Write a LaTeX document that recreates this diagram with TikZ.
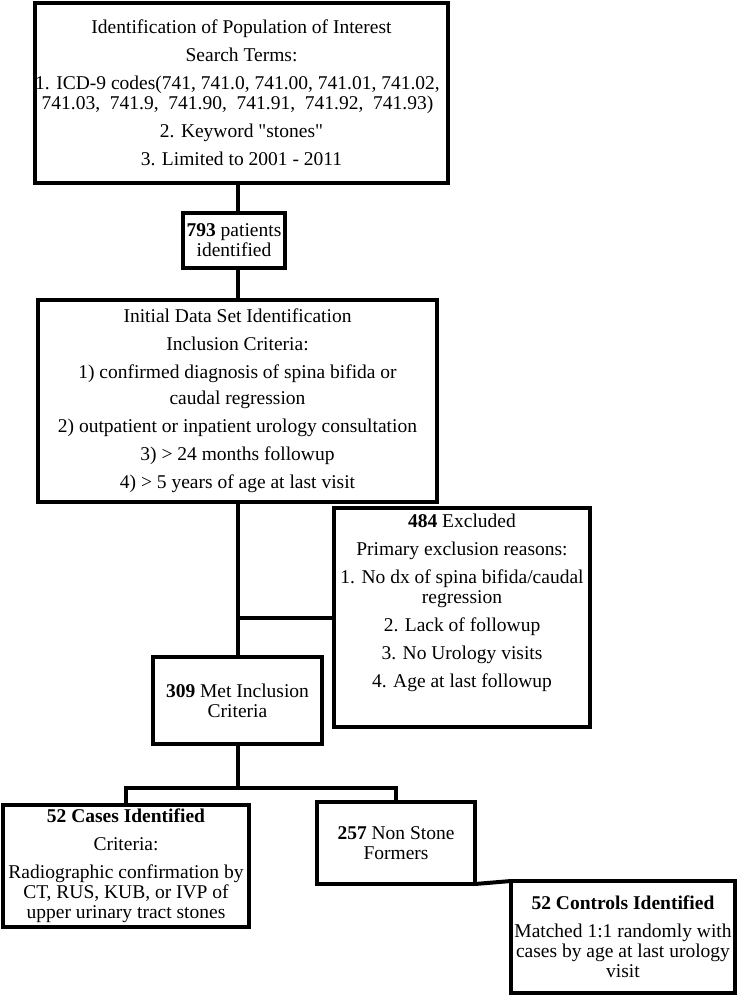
\documentclass[tikz,border=0pt]{standalone}
\usepackage{fontspec}
\setmainfont{Liberation Serif}
\newcommand\boxfont{\fontsize{19.5}{20}\selectfont}
\begin{document}
\begin{tikzpicture}[x=1pt,y=-1pt,
  box/.style={draw, line width=4pt, rectangle, inner sep=0pt, outer sep=0pt, align=center, font=\boxfont},
  txt/.style={inner sep=0pt, outer sep=0pt, align=center, font=\boxfont},
  conn/.style={line width=4pt}]
\path[use as bounding box, fill=white] (0,0) rectangle (738,996);

\node[box, minimum width=413pt, minimum height=180pt] (top) at (241.5,93)
 {Identification of Population of Interest\\[8pt]
  Search Terms:\\[8pt]
  \hspace*{-8pt}1. ICD-9 codes(741, 741.0, 741.00, 741.01, 741.02,\\
  \hspace*{-8pt}741.03, \ 741.9, \ 741.90, \ 741.91, \ 741.92, \ 741.93)\\[8pt]
  2. Keyword \textquotedbl stones\textquotedbl\\[8pt]
  3. Limited to 2001 - 2011};

\node[box, minimum width=102pt, minimum height=55pt] (n793) at (234,240.5)
 {\textbf{793} patients\\ identified};

\node[box, minimum width=399pt, minimum height=202pt] (init) at (237.5,401)
 {Initial Data Set Identification\\[8pt]
  Inclusion Criteria:\\[8pt]
  1) confirmed diagnosis of spina bifida or\\[6pt]
  caudal regression\\[8pt]
  2) outpatient or inpatient urology consultation\\[8pt]
  3) > 24 months followup\\[8pt]
  4) > 5 years of age at last visit};

\node[box, minimum width=256pt, minimum height=219pt] (excl) at (462,617.5) {};
\node[txt, anchor=north] (exclt) at (462,514)
 {\textbf{484} Excluded\\[8pt]
  Primary exclusion reasons:\\[8pt]
  1. No dx of spina bifida/caudal\\
  regression\\[8pt]
  2. Lack of followup\\[8pt]
  3. No Urology visits\\[8pt]
  4. Age at last followup};

\node[box, minimum width=169pt, minimum height=87pt] (met) at (237.5,700.5)
 {\textbf{309} Met Inclusion\\ Criteria};

\node[box, minimum width=246pt, minimum height=122pt] (cases) at (126,866)
 {\textbf{52 Cases Identified}\\[8pt]
  Criteria:\\[8pt]
  Radiographic confirmation by\\
  CT, RUS, KUB, or IVP of\\
  upper urinary tract stones};

\node[box, minimum width=158pt, minimum height=82pt] (non) at (396,843)
 {\textbf{257} Non Stone\\ Formers};

\node[box, minimum width=224pt, minimum height=112pt] (ctrl) at (623,937)
 {\textbf{52 Controls Identified}\\[8pt]
  Matched 1:1 randomly with\\
  cases by age at last urology\\
  visit};

\coordinate (spine) at (238,0);
\coordinate (split) at (238,788);

\draw[conn] (spine |- top.south) -- (spine |- n793.north);
\draw[conn] (spine |- n793.south) -- (spine |- init.north);
\draw[conn] (spine |- init.south) -- (spine |- met.north);
\draw[conn] (spine |- excl.west) -- (excl.west);
\draw[conn] (spine |- met.south) -- (split);
\draw[conn] (cases.north) |- (split) -| (non.north);
\draw[conn] (non.south east) -- (ctrl.north west);
\end{tikzpicture}
\end{document}
